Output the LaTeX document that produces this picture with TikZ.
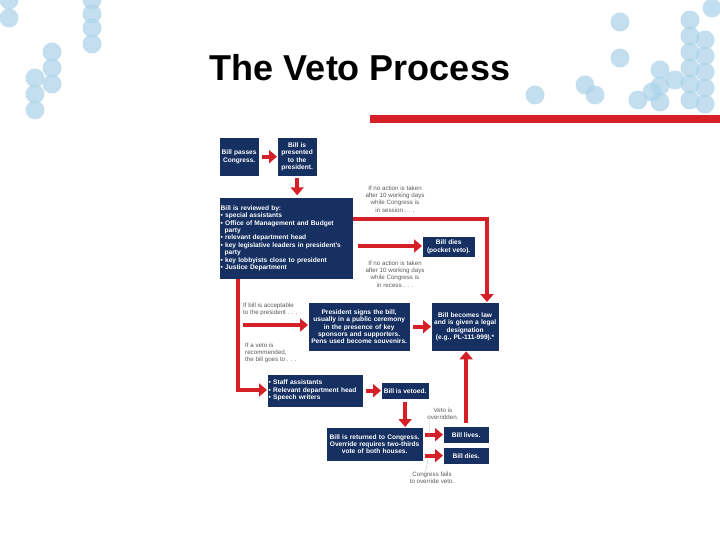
\documentclass[tikz,border=0pt]{standalone}
\usepackage{fontspec}
\setmainfont{Liberation Sans}
\usetikzlibrary{arrows.meta}
\definecolor{navy}{RGB}{22,48,98}
\definecolor{vred}{RGB}{214,32,39}
\definecolor{dots}{RGB}{170,210,232}
\tikzset{
box/.style={fill=navy, draw=white, line width=0.3pt, text=white, font=\fontsize{6.6}{7.4}\selectfont\bfseries, inner sep=1.5pt, anchor=north west},
note/.style={text=gray!70!black, font=\fontsize{6.2}{7.2}\selectfont, align=center, inner sep=0pt},
flow/.style={vred, line width=4pt, -{Triangle[width=13pt,length=8pt]}}
}
\begin{document}
\begin{tikzpicture}[x=1pt,y=-1pt]
\useasboundingbox (0,0) rectangle (720,540);
% decoration
\foreach \x/\y in {9/0,9/18,35/78,35/94,35/110,52/52,52/68,52/84,92/0,92/14,92/28,92/44,620/22,620/58,535/95,585/85,595/95,660/70,660/86,660/102,675/80,690/20,690/36,690/52,690/68,690/84,690/100,705/40,705/56,705/72,705/88,705/104,712/8,638/100,652/92}
  \fill[dots, opacity=0.7] (\x,\y) circle (9.5);
\fill[vred] (370,115) rectangle (720,123);
\node[font=\fontsize{36}{40}\selectfont\bfseries] (title) at (360,68) {The Veto Process};
% boxes
\node[box, minimum width=40pt, minimum height=39pt, align=center, text width=37pt] (passes) at (219,137) {Bill passes Congress.};
\node[box, minimum width=40pt, minimum height=39pt, align=center, text width=37pt] (presented) at (277,137) {Bill is presented to the president.};
\node[box, minimum width=134pt, minimum height=82pt, align=left, text width=131pt] (review) at (219,197) {Bill is reviewed by:\\
\textbullet\ special assistants\\
\textbullet\ Office of Management and Budget\\ \hspace*{4pt}party\\
\textbullet\ relevant department head\\
\textbullet\ key legislative leaders in president's\\ \hspace*{4pt}party\\
\textbullet\ key lobbyists close to president\\
\textbullet\ Justice Department};
\node[box, minimum width=53pt, minimum height=21pt, align=center, text width=50pt] (pocket) at (422,236) {Bill dies\\(pocket veto).};
\node[box, minimum width=102pt, minimum height=49pt, align=center, text width=99pt] (signs) at (308,302) {President signs the bill,\\usually in a public ceremony\\in the presence of key\\sponsors and supporters.\\Pens used become souvenirs.};
\node[box, minimum width=68pt, minimum height=49pt, align=center, text width=65pt] (law) at (431,302) {Bill becomes law\\and is given a legal\\designation\\(e.g., PL-111-999).*};
\node[box, minimum width=96pt, minimum height=33pt, align=left, text width=93pt] (staff) at (267,374) {\textbullet\ Staff assistants\\ \textbullet\ Relevant department head\\ \textbullet\ Speech writers};
\node[box, minimum width=48pt, minimum height=17pt, align=center] (vetoed) at (381,382) {Bill is vetoed.};
\node[box, minimum width=97pt, minimum height=34pt, align=center, text width=94pt] (returned) at (326,427) {Bill is returned to Congress.\\Override requires two-thirds\\vote of both houses.};
\node[box, minimum width=46pt, minimum height=17pt, align=center] (lives) at (443,426) {Bill lives.};
\node[box, minimum width=46pt, minimum height=17pt, align=center] (dies) at (443,447) {Bill dies.};
% notes
\node[note] (session) at (395,199) {If no action is taken\\after 10 working days\\while Congress is\\in session . . .};
\node[note] (recess) at (395,274) {If no action is taken\\after 10 working days\\while Congress is\\in recess . . .};
\node[note, align=left, anchor=west] (accept) at (243,309) {If bill is acceptable\\to the president . . .};
\node[note, align=left, anchor=west] (vetonote) at (245,353) {If a veto is\\recommended,\\the bill goes to . . .};
\node[note] (overridden) at (443,414) {Veto is\\overridden.};
\node[note] (fails) at (432,478) {Congress fails\\to override veto.};
% connectors
\draw[flow] (passes.east) ++(3,0) coordinate (p1) -- (p1 -| presented.west);
\draw[flow] (presented.south) ++(0,2) coordinate (p2) -- ++(0,17);
\draw[flow] (review.east |- 0,219) coordinate (r1) -- (487,219) coordinate (r2) -- (r2 |- law.north);
\draw[flow] (review.east |- 0,246) ++(5,0) coordinate (r3) -- (r3 -| pocket.west);
\draw[vred, line width=4pt] (238,279) coordinate (r4) -- (238,392);
\draw[flow] (236,390) coordinate (r5) -- (r5 -| staff.west);
\draw[flow] (243,325) coordinate (a1) -- (a1 -| signs.west);
\draw[flow] (signs.east) ++(3,0) coordinate (s1) -- (s1 -| law.west);
\draw[flow] (staff.east) ++(3,0) coordinate (v1) -- (v1 -| vetoed.west);
\draw[flow] (vetoed.south) ++(0,3) coordinate (v2) -- (v2 |- returned.north);
\draw[flow] (returned.east |- lives.west) ++(2,0) coordinate (o1) -- (o1 -| lives.west);
\draw[flow] (returned.east |- dies.west) ++(2,0) coordinate (o2) -- (o2 -| dies.west);
\draw[flow] (lives.north) ++(0,-3) coordinate (l1) -- (l1 |- law.south);
\draw[gray!60, line width=0.3pt] (overridden.south west) ++(2,0) -- (429,438);
\draw[gray!60, line width=0.3pt] (fails.north west) ++(16,0) -- (428,459);
\end{tikzpicture}
\end{document}
